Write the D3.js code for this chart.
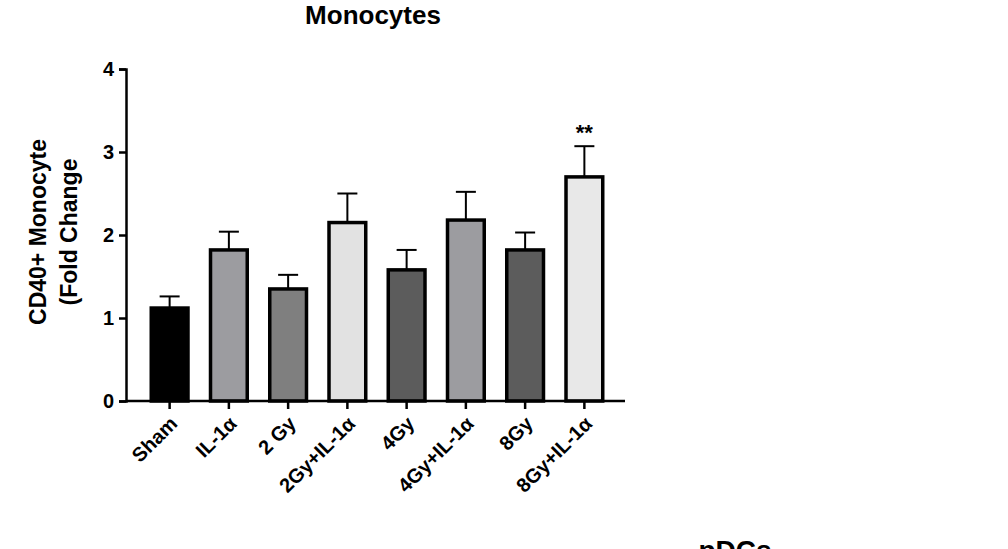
<!DOCTYPE html>
<html><head><meta charset="utf-8">
<script src="https://cdn.jsdelivr.net/npm/d3@7"></script>
<style>body{margin:0;background:#fff}text{font-family:Arial,"Liberation Sans",sans-serif;font-weight:bold}</style>
</head><body><svg id="c" width="1008" height="549"></svg>
<script>
const categories=["Sham","IL-1α","2 Gy","2Gy+IL-1α","4Gy","4Gy+IL-1α","8Gy","8Gy+IL-1α"];
const means=[1.12,1.82,1.35,2.15,1.58,2.18,1.82,2.70];
const errTop=[1.26,2.04,1.52,2.50,1.82,2.52,2.03,3.07];
const fills=["#000000","#9c9ca0","#7f7f7f","#e2e2e2","#5c5c5c","#9c9ca0","#5c5c5c","#e8e8e8"];
const yTicks=[0,1,2,3,4];
const svg=d3.select("#c");
const x=d3.scaleBand().domain(categories).range([140,614]).paddingInner(0.38).paddingOuter(0.19);
const y=d3.scaleLinear().domain([0,4]).range([401,69]);
const g=svg.append("g");
categories.forEach((c,i)=>{
  const cx=x(c)+x.bandwidth()/2;
  g.append("line").attr("x1",cx).attr("x2",cx).attr("y1",y(means[i])).attr("y2",y(errTop[i])).attr("stroke","#000").attr("stroke-width",2);
  g.append("line").attr("x1",cx-10).attr("x2",cx+10).attr("y1",y(errTop[i])).attr("y2",y(errTop[i])).attr("stroke","#000").attr("stroke-width",2);
});
g.selectAll("rect").data(categories).join("rect")
 .attr("x",d=>x(d)).attr("width",x.bandwidth())
 .attr("y",(d,i)=>y(means[i])).attr("height",(d,i)=>y(0)-y(means[i]))
 .attr("fill",(d,i)=>fills[i]).attr("stroke","#000").attr("stroke-width",3.5);
const ya=svg.append("g").attr("transform","translate(126,0)").call(d3.axisLeft(y).tickValues(yTicks).tickSize(7).tickFormat(d3.format("d")));
ya.select(".domain").attr("stroke-width",2.5);
ya.selectAll(".tick line").attr("stroke-width",2.5);
ya.selectAll("text").attr("font-size",20).attr("font-weight","bold").attr("font-family","Arial,'Liberation Sans',sans-serif").attr("dx",-2);
const xa=svg.append("g").attr("transform","translate(0,401)").call(d3.axisBottom(x).tickSize(8).tickSizeOuter(0));
xa.select(".domain").attr("d","M126,0H625").attr("stroke-width",2.5);
xa.selectAll(".tick line").attr("stroke-width",2.5);
xa.selectAll("text").attr("font-size",20).attr("font-weight","bold").attr("font-family","Arial,'Liberation Sans',sans-serif")
 .attr("text-anchor","end").attr("dy",0).attr("y",0).attr("transform","translate(9,24) rotate(-45)");
svg.append("text").attr("x",x(categories[7])+x.bandwidth()/2).attr("y",y(errTop[7])-6).attr("text-anchor","middle").attr("font-size",22).text("**");
svg.append("text").attr("x",373).attr("y",24).attr("text-anchor","middle").attr("font-size",26).text("Monocytes");
const yl=svg.append("text").attr("transform","translate(46,232) rotate(-90)").attr("text-anchor","middle").attr("font-size",23);
yl.append("tspan").attr("x",0).attr("dy",0).text("CD40+ Monocyte");
yl.append("tspan").attr("x",0).attr("dy",31).text("(Fold Change");
svg.append("text").attr("x",735).attr("y",560).attr("text-anchor","middle").attr("font-size",28).text("pDCs");
</script></body></html>
